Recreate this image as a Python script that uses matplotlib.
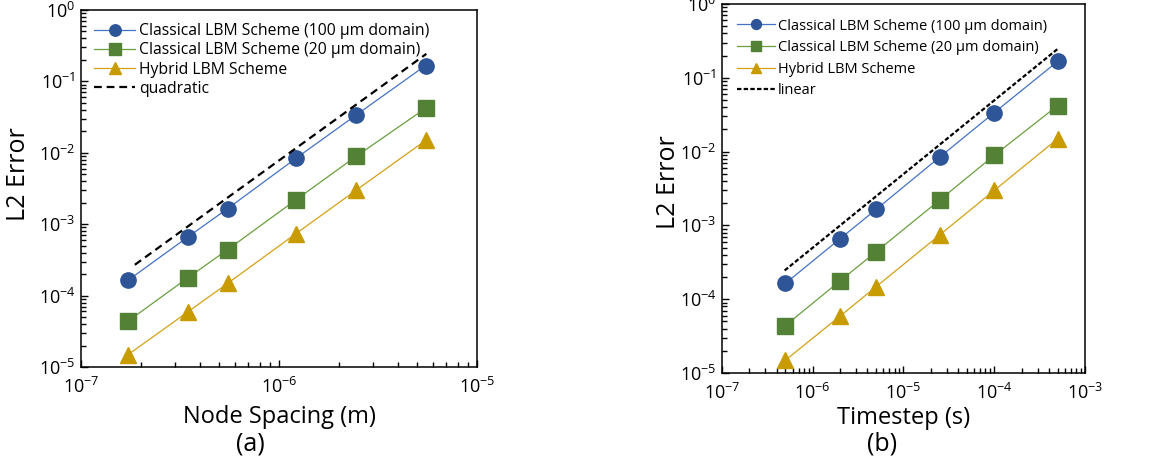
import matplotlib
matplotlib.use('Agg')
import matplotlib.pyplot as plt
import matplotlib.ticker as ticker
import numpy as np

plt.rcParams['font.family'] = ['Open Sans', 'DejaVu Sans']
plt.rcParams['mathtext.fontset'] = 'custom'
plt.rcParams['mathtext.rm'] = 'Open Sans'

# data
node_spacing = [1.73e-7, 3.46e-7, 5.5e-7, 1.22e-6, 2.45e-6, 5.5e-6]
timestep = [5e-7, 2e-6, 5e-6, 2.5e-5, 1e-4, 5e-4]
err_classic_100 = [1.64e-4, 6.6e-4, 1.65e-3, 8.4e-3, 3.37e-2, 0.167]
err_classic_20 = [4.4e-5, 1.77e-4, 4.4e-4, 2.2e-3, 8.9e-3, 4.2e-2]
err_hybrid = [1.49e-5, 5.9e-5, 1.48e-4, 7.4e-4, 2.98e-3, 1.49e-2]
quad_x = [1.87e-7, 5.55e-6]
quad_y = [2.7e-4, 0.243]
lin_x = [4.9e-7, 5.08e-4]
lin_y = [2.45e-4, 0.25]

labels = ['Classical LBM Scheme (100 µm domain)',
          'Classical LBM Scheme (20 µm domain)',
          'Hybrid LBM Scheme']
line_cols = ['#4472C4', '#6A9E3F', '#D4A017']
mark_cols = ['#2E5597', '#538135', '#C89B00']
markers = ['o', 's', '^']


def fmt(v, pos):
    e = int(round(np.log10(v)))
    return r'$\mathregular{10^{%d}}$' % e


def panel(ax, x, ref_x, ref_y, ref_label, xlim, dash, legsize, mscale, lspace, bpad):
    for y, lab, lc, mc, m in zip([err_classic_100, err_classic_20, err_hybrid],
                                 labels, line_cols, mark_cols, markers):
        ax.plot(x, y, color=lc, lw=0.9, marker=m, ms=11, mfc=mc, mec=mc, label=lab)
    ax.plot(ref_x, ref_y, color='black', lw=1.6, dashes=dash, label=ref_label)
    ax.set_xscale('log')
    ax.set_yscale('log')
    ax.set_xlim(*xlim)
    ax.set_ylim(1e-5, 1)
    ax.xaxis.set_major_formatter(ticker.FuncFormatter(fmt))
    ax.yaxis.set_major_formatter(ticker.FuncFormatter(fmt))
    ax.xaxis.set_minor_locator(ticker.LogLocator(base=10, subs=np.arange(2, 10), numticks=20))
    ax.yaxis.set_minor_locator(ticker.LogLocator(base=10, subs=np.arange(2, 10), numticks=20))
    ax.xaxis.set_minor_formatter(ticker.NullFormatter())
    ax.yaxis.set_minor_formatter(ticker.NullFormatter())
    ax.tick_params(which='both', direction='in', labelsize=13, top=False, right=False)
    ax.tick_params(which='major', length=5, width=1)
    ax.tick_params(axis='x', which='major', pad=7)
    ax.tick_params(axis='y', which='major', pad=4)
    ax.tick_params(which='minor', length=3.5, width=1)
    for s in ax.spines.values():
        s.set_linewidth(1.1)
    ax.set_ylabel('L2 Error', fontsize=18)
    ax.legend(loc='upper left', frameon=False, fontsize=legsize, handlelength=2.6,
              handletextpad=0.25, labelspacing=lspace, borderaxespad=bpad,
              markerscale=mscale)


fig = plt.figure(figsize=(11.67, 4.61), dpi=100)
ax1 = fig.add_axes([0.0694, 0.2039, 0.3393, 0.7744])
ax2 = fig.add_axes([0.6187, 0.1909, 0.3110, 0.8004])

panel(ax1, node_spacing, quad_x, quad_y, 'quadratic', (1e-7, 1e-5), (3.5, 2.2),
      11.3, 0.75, 0.2, 0.45)
panel(ax2, timestep, lin_x, lin_y, 'linear', (1e-7, 1e-3), (2, 1),
      10.5, 0.65, 0.45, 0.6)

ax1.yaxis.set_label_coords(-0.126, 0.54)
ax2.yaxis.set_label_coords(-0.113, 0.518)

ax1.set_xlabel('Node Spacing (m)', fontsize=17, labelpad=6)
ax2.set_xlabel('Timestep (s)', fontsize=17, labelpad=2)
fig.text(250 / 1167, 1 - 444 / 461, '(a)', fontsize=18, ha='center', va='center')
fig.text(882 / 1167, 1 - 444 / 461, '(b)', fontsize=18, ha='center', va='center')

fig.savefig('out.png', dpi=100)
